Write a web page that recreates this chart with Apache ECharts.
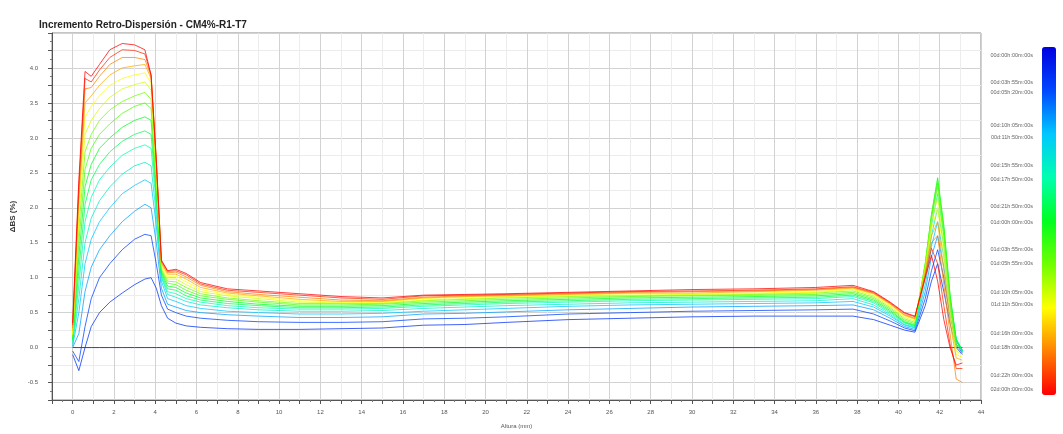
<!DOCTYPE html>
<html><head><meta charset="utf-8">
<script src="https://cdn.jsdelivr.net/npm/echarts@6/dist/echarts.min.js"></script>
<style>html,body{margin:0;padding:0;background:#fff}#c{width:1063px;height:434px}</style>
</head><body><div id="c"></div>
<script>
// Height positions (mm)
const heights = [0, 0.3, 0.6, 0.9, 1.3, 1.8, 2.4, 3.0, 3.5, 3.8, 4.05, 4.3, 4.6, 5.0, 5.5, 6.2, 7.5, 9, 11, 13, 15, 17, 19, 21, 24, 27, 30, 33, 36, 37.8, 38.8, 39.6, 40.3, 40.8, 41.3, 41.6, 41.9, 42.2, 42.5, 42.8, 43.1];

// Scan time labels (colour scale)
const scanLabels = ["00d:00h:00m:00s","00d:03h:55m:00s","00d:05h:20m:00s","00d:10h:05m:00s","00d:11h:50m:00s","00d:15h:55m:00s","00d:17h:50m:00s","00d:21h:50m:00s","01d:00h:00m:00s","01d:03h:55m:00s","01d:05h:55m:00s","01d:10h:05m:00s","01d:11h:50m:00s","01d:16h:00m:00s","01d:18h:00m:00s","01d:22h:00m:00s","02d:00h:00m:00s"];

// Delta backscattering (%) per scan
const scan00 = [0,0,0,0,0,0,0,0,0,0,0,0,0,0,0,0,0,0,0,0,0,0,0,0,0,0,0,0,0,0,0,0,0,0,0,0,0,0,0,0,0];
const scan01 = [-0.1,-0.33,0.0,0.3,0.5,0.65,0.78,0.9,0.98,1.0,0.85,0.6,0.42,0.35,0.31,0.29,0.27,0.26,0.26,0.27,0.28,0.32,0.33,0.36,0.4,0.42,0.44,0.45,0.45,0.45,0.4,0.32,0.25,0.22,0.6,0.95,1.2,0.8,0.35,0.0,-0.1];
const scan02 = [-0.05,-0.2,0.3,0.7,1.0,1.2,1.4,1.55,1.62,1.6,1.2,0.75,0.55,0.5,0.45,0.42,0.39,0.37,0.36,0.36,0.37,0.41,0.42,0.44,0.48,0.5,0.52,0.53,0.54,0.55,0.48,0.38,0.28,0.24,0.7,1.1,1.4,1.0,0.45,0.05,-0.08];
const scan03 = [0.0,0.2,0.8,1.15,1.4,1.6,1.8,1.95,2.05,2.0,1.5,0.85,0.62,0.58,0.53,0.5,0.47,0.45,0.43,0.43,0.44,0.48,0.49,0.51,0.54,0.56,0.58,0.59,0.6,0.61,0.54,0.42,0.3,0.26,0.8,1.3,1.6,1.15,0.55,0.1,-0.06];
const scan04 = [0.02,0.5,1.2,1.55,1.8,2.0,2.2,2.32,2.4,2.35,1.75,0.95,0.7,0.66,0.6,0.56,0.52,0.5,0.48,0.48,0.49,0.52,0.54,0.56,0.59,0.61,0.62,0.63,0.64,0.66,0.58,0.45,0.32,0.28,0.9,1.45,1.8,1.3,0.6,0.1,-0.05];
const scan05 = [0.05,0.7,1.5,1.85,2.1,2.3,2.48,2.6,2.65,2.6,1.9,1.0,0.76,0.72,0.66,0.61,0.57,0.54,0.52,0.52,0.53,0.56,0.58,0.6,0.62,0.64,0.65,0.66,0.67,0.7,0.61,0.47,0.33,0.29,1.0,1.6,2.0,1.45,0.65,0.12,-0.05];
const scan06 = [0.08,0.9,1.8,2.15,2.4,2.58,2.75,2.85,2.9,2.85,2.05,1.02,0.8,0.77,0.7,0.65,0.6,0.57,0.55,0.55,0.56,0.59,0.61,0.63,0.65,0.67,0.68,0.69,0.7,0.73,0.64,0.49,0.35,0.3,1.1,1.75,2.2,1.6,0.7,0.12,-0.04];
const scan07 = [0.1,1.1,2.05,2.4,2.62,2.8,2.95,3.05,3.1,3.05,2.15,1.05,0.84,0.82,0.74,0.68,0.63,0.6,0.57,0.57,0.58,0.61,0.63,0.65,0.67,0.69,0.7,0.71,0.72,0.75,0.66,0.51,0.36,0.31,1.15,1.85,2.35,1.7,0.75,0.12,-0.04];
const scan08 = [0.12,1.3,2.3,2.62,2.85,3.0,3.15,3.25,3.3,3.25,2.25,1.08,0.88,0.86,0.78,0.71,0.66,0.62,0.59,0.59,0.6,0.63,0.65,0.67,0.69,0.71,0.72,0.73,0.74,0.77,0.68,0.53,0.37,0.32,1.2,1.9,2.43,1.75,0.75,0.1,-0.04];
const scan09 = [0.14,1.5,2.55,2.85,3.05,3.2,3.35,3.45,3.5,3.42,2.35,1.1,0.92,0.9,0.82,0.74,0.69,0.65,0.61,0.61,0.62,0.65,0.67,0.69,0.71,0.73,0.74,0.75,0.76,0.79,0.7,0.55,0.39,0.34,1.2,1.9,2.4,1.7,0.7,0.05,-0.06];
const scan10 = [0.16,1.7,2.8,3.05,3.25,3.4,3.52,3.6,3.65,3.55,2.42,1.12,0.95,0.94,0.86,0.77,0.71,0.67,0.63,0.63,0.63,0.67,0.69,0.71,0.73,0.74,0.75,0.76,0.78,0.81,0.72,0.57,0.41,0.36,1.2,1.85,2.3,1.6,0.65,0.0,-0.08];
const scan11 = [0.18,1.85,3.05,3.25,3.42,3.58,3.7,3.76,3.8,3.68,2.5,1.15,0.98,0.98,0.9,0.8,0.74,0.7,0.65,0.64,0.64,0.68,0.7,0.72,0.74,0.75,0.76,0.77,0.79,0.83,0.74,0.59,0.43,0.38,1.15,1.8,2.15,1.45,0.55,-0.05,-0.1];
const scan12 = [0.2,2.0,3.3,3.45,3.6,3.75,3.85,3.9,3.93,3.78,2.55,1.18,1.02,1.02,0.94,0.83,0.76,0.72,0.67,0.65,0.65,0.7,0.72,0.73,0.75,0.77,0.77,0.78,0.8,0.84,0.76,0.6,0.45,0.4,1.1,1.7,2.0,1.3,0.45,-0.1,-0.14];
const scan13 = [0.24,2.1,3.5,3.6,3.75,3.9,4.0,4.03,4.05,3.85,2.6,1.2,1.05,1.05,0.98,0.86,0.78,0.74,0.69,0.66,0.66,0.71,0.73,0.74,0.76,0.78,0.78,0.8,0.82,0.85,0.77,0.62,0.46,0.41,1.1,1.6,1.8,1.1,0.35,-0.15,-0.18];
const scan14 = [0.28,2.2,3.7,3.72,3.88,4.05,4.15,4.15,4.12,3.88,2.65,1.22,1.07,1.08,1.01,0.89,0.8,0.76,0.72,0.68,0.67,0.72,0.74,0.75,0.77,0.79,0.8,0.81,0.83,0.86,0.78,0.63,0.47,0.42,1.05,1.5,1.6,0.9,0.2,-0.45,-0.5];
const scan15 = [0.32,2.3,3.85,3.8,3.97,4.15,4.26,4.25,4.2,3.9,2.68,1.24,1.09,1.1,1.04,0.91,0.82,0.79,0.75,0.71,0.69,0.74,0.75,0.76,0.78,0.8,0.81,0.82,0.84,0.87,0.79,0.64,0.49,0.44,1.02,1.42,1.2,0.6,0.05,-0.3,-0.3];
const scan16 = [0.35,2.4,3.95,3.88,4.05,4.26,4.35,4.33,4.26,3.9,2.7,1.25,1.1,1.12,1.06,0.93,0.84,0.81,0.77,0.73,0.71,0.75,0.76,0.77,0.79,0.81,0.83,0.84,0.86,0.89,0.8,0.65,0.5,0.45,1.0,1.32,0.95,0.4,0.0,-0.25,-0.22];

// Colour scale stops (blue -> red)
const scaleColors = ['#0000e0','#0048ff','#00c8ff','#00ffb0','#00ff20','#70ff00','#ffff00','#ff8000','#ff0000'];

const scans = [scan00,scan01,scan02,scan03,scan04,scan05,scan06,scan07,scan08,scan09,scan10,scan11,scan12,scan13,scan14,scan15,scan16];

function labelToHours(s){const m=s.match(/(\d+)d:(\d+)h:(\d+)m:(\d+)s/);return (+m[1])*24+(+m[2])+(+m[3])/60+(+m[4])/3600;}
const scanTimes = scanLabels.map(labelToHours);
const tMax = scanTimes[scanTimes.length-1];
function hex(c){return [parseInt(c.slice(1,3),16),parseInt(c.slice(3,5),16),parseInt(c.slice(5,7),16)];}
function colorAt(f){
  const n=scaleColors.length-1; const p=Math.min(Math.max(f,0),1)*n; const i=Math.min(Math.floor(p),n-1); const r=p-i;
  const a=hex(scaleColors[i]), b=hex(scaleColors[i+1]);
  return 'rgb('+a.map((v,k)=>Math.round(v+(b[k]-v)*r)).join(',')+')';
}

const chart = echarts.init(document.getElementById('c'), null, {renderer:'canvas'});
const isStep = (v, s) => Math.abs(v/s - Math.round(v/s)) < 1e-6;
const FONT = 'Liberation Sans, Arial, sans-serif';

const series = scans.map((d,i)=>({
  type:'line', xAxisIndex:0, yAxisIndex:0, symbol:'none', silent:true,
  data: heights.map((h,j)=>[h,d[j]]),
  lineStyle:{width:1, color: colorAt(scanTimes[i]/tMax), opacity:0.75},
  z: 2+i
}));
series.push({type:'scatter', xAxisIndex:1, yAxisIndex:1, data:[], silent:true});

chart.setOption({
  animation:false,
  backgroundColor:'#fff',
  title:{text:'Incremento Retro-Dispersión - CM4%-R1-T7', left:34, top:15,
    textStyle:{fontSize:10, fontWeight:'bold', color:'#222', fontFamily:FONT}},
  grid:[
    {left:52, top:33, width:929, height:378, show:true, borderColor:'#8a8a8a', borderWidth:1, containLabel:false},
    {left:1038, top:55, width:1, height:334, show:false}
  ],
  xAxis:[
    {type:'value', gridIndex:0, min:-1, max:44, interval:1,
     name:'Altura (mm)', nameLocation:'middle', nameGap:23,
     nameTextStyle:{fontSize:6, color:'#555', fontFamily:FONT},
     axisLine:{show:true, onZero:false, lineStyle:{color:'#555', width:1}},
     axisTick:{show:true, length:4, lineStyle:{color:'#555'}},
     minorTick:{show:true, splitNumber:2, length:2, lineStyle:{color:'#777'}},
     axisLabel:{fontSize:6, color:'#555', margin:9, fontFamily:FONT,
       formatter:v=> isStep(v,2) ? String(Math.round(v)) : ''},
     splitLine:{show:true, lineStyle:{color:['#ececec','#d2d2d2'], width:1}}},
    {type:'value', gridIndex:1, show:false, min:0, max:1}
  ],
  yAxis:[
    {type:'value', gridIndex:0, min:-0.75, max:4.5, interval:0.25,
     name:'ΔBS (%)', nameLocation:'middle', nameGap:35, nameRotate:90,
     nameTextStyle:{fontSize:8, fontWeight:'bold', color:'#333', fontFamily:FONT},
     axisLine:{show:true, onZero:false, lineStyle:{color:'#555', width:1}},
     axisTick:{show:true, length:4, lineStyle:{color:'#555'}},
     minorTick:{show:true, splitNumber:2, length:2, lineStyle:{color:'#777'}},
     axisLabel:{fontSize:6, color:'#555', margin:14, fontFamily:FONT,
       formatter:v=> (isStep(v,0.5) && v < 4.4) ? v.toFixed(1) : ''},
     splitLine:{show:true, lineStyle:{color:['#ececec','#d2d2d2'], width:1}}},
    {type:'value', gridIndex:1, min:0, max:tMax, inverse:true, position:'left',
     axisLine:{show:false}, axisTick:{show:false}, splitLine:{show:false},
     axisLabel:{show:true, fontSize:5.5, color:'#666', margin:5, fontFamily:FONT,
       customValues: scanTimes,
       formatter:v=>{let bi=0,bd=1e9;scanTimes.forEach((t,i)=>{const d=Math.abs(t-v);if(d<bd){bd=d;bi=i;}});return scanLabels[bi];}}}
  ],
  visualMap:{type:'continuous', seriesIndex:scans.length, min:0, max:tMax, inverse:true,
    orient:'vertical', left:1042, top:47, itemWidth:14, itemHeight:348, padding:0,
    text:null, calculable:false, hoverLink:false,
    inRange:{color:scaleColors}},
  series: series
});
</script></body></html>
